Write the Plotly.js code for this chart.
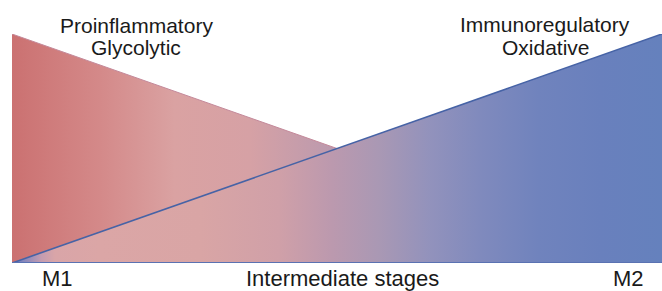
<!DOCTYPE html>
<html>
<head>
<meta charset="utf-8">
<script src="https://cdn.plot.ly/plotly-3.0.1.min.js"></script>
<style>html,body{margin:0;padding:0;background:#fff;}#chart{width:662px;height:291px;}</style>
</head>
<body>
<div id="chart"></div>
<script>
// Stage axis: 0 = M1, 1 = M2
const proinflammatoryX = [0, 0, 1, 0];
const proinflammatoryY = [1, 0, 0, 1];
const immunoregulatoryX = [0, 1, 1, 0];
const immunoregulatoryY = [0, 1, 0, 0];
const stageLabels = ['M1', 'Intermediate stages', 'M2'];
const stageLabelPos = [0.070, 0.509, 0.948];
const topLabelsLeft = ['Proinflammatory', 'Glycolytic'];
const topLabelsRight = ['Immunoregulatory', 'Oxidative'];

const redScale = [
  [0, '#cb7171'], [0.135, '#d48989'], [0.25, '#daa2a2'], [0.366, '#d6a1a5'],
  [0.49, '#bc9aae'], [0.65, '#9490bc'], [1, '#6580bd']
];
const blueScale = [
  [0, '#6477bd'], [0.02, '#8a88bb'], [0.045, '#c49cb0'], [0.066, '#d9a5a8'],
  [0.135, '#dba6a6'], [0.29, '#d9a5a5'], [0.41, '#d0a0a8'], [0.49, '#bc99ae'],
  [0.566, '#a998b4'], [0.643, '#9292bc'], [0.72, '#808abd'], [0.81, '#7083bd'],
  [0.905, '#6980bd'], [1, '#6581bd']
];

const traces = [
  {x: proinflammatoryX, y: proinflammatoryY, mode: 'lines', fill: 'toself',
   line: {width: 0, color: 'rgba(0,0,0,0)'},
   fillgradient: {type: 'horizontal', colorscale: redScale}, hoverinfo: 'skip'},
  {x: [proinflammatoryX[0], proinflammatoryX[2]], y: [proinflammatoryY[0], proinflammatoryY[2]],
   mode: 'lines', line: {width: 1, color: '#c4899a'}, hoverinfo: 'skip', cliponaxis: false},
  {x: immunoregulatoryX, y: immunoregulatoryY, mode: 'lines', fill: 'toself',
   line: {width: 0, color: 'rgba(0,0,0,0)'},
   fillgradient: {type: 'horizontal', colorscale: blueScale}, hoverinfo: 'skip'},
  {x: [immunoregulatoryX[0], immunoregulatoryX[1]], y: [immunoregulatoryY[0], immunoregulatoryY[1]],
   mode: 'lines', line: {width: 1.6, color: '#4663a6'}, hoverinfo: 'skip', cliponaxis: false},
  {x: [immunoregulatoryX[0], immunoregulatoryX[2]], y: [immunoregulatoryY[0], immunoregulatoryY[2]],
   mode: 'lines', line: {width: 2, color: '#5a72b2'}, hoverinfo: 'skip', cliponaxis: false}
];

const font = {family: 'Liberation Sans, Arial, sans-serif', color: '#1a1a1a'};
const annotations = [];
function addText(text, x, y, size) {
  annotations.push({text: text, x: x, y: y, xref: 'paper', yref: 'paper',
    xanchor: 'center', yanchor: 'middle', showarrow: false, borderpad: 0,
    font: Object.assign({}, font, {size: size})});
}
addText(topLabelsLeft[0], 0.192, 1.036, 21);
addText(topLabelsLeft[1], 0.190, 0.939, 21);
addText(topLabelsRight[0], 0.820, 1.040, 21);
addText(topLabelsRight[1], 0.821, 0.939, 21);
stageLabels.forEach((t, i) => addText(t, stageLabelPos[i], -0.068, 22));

const layout = {
  width: 662, height: 291,
  margin: {l: 12, r: 0, t: 34, b: 28, pad: 0},
  paper_bgcolor: '#ffffff', plot_bgcolor: 'rgba(0,0,0,0)',
  showlegend: false,
  xaxis: {range: [0, 1], visible: false, fixedrange: true},
  yaxis: {range: [0, 1], visible: false, fixedrange: true},
  annotations: annotations
};

Plotly.newPlot('chart', traces, layout, {displayModeBar: false, staticPlot: true});
</script>
</body>
</html>
